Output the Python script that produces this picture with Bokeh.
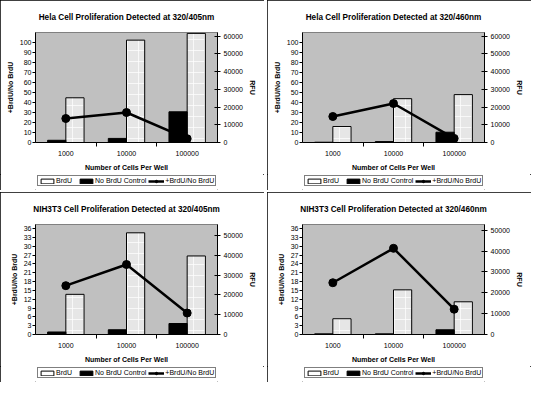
from bokeh.plotting import figure
from bokeh.models import (Range1d, LinearAxis, FixedTicker, Legend, LegendItem,
                          ColumnDataSource)
from bokeh.layouts import row, column
from bokeh.embed import file_html
from bokeh.resources import INLINE

# ---------------- data ----------------
categories = ["1000", "10000", "100000"]

titles = [
    "Hela Cell Proliferation Detected at 320/405nm",
    "Hela Cell Proliferation Detected at 320/460nm",
    "NIH3T3 Cell Proliferation Detected at 320/405nm",
    "NIH3T3 Cell Proliferation Detected at 320/460nm",
]

series_names = ["BrdU", "No BrdU Control", "+BrdU/No BrdU"]

# RFU (right axis)
brdu_hela_405 = [25200, 57700, 61500]
nobrdu_hela_405 = [1250, 2300, 17300]
ratio_hela_405 = [24, 30, 3.8]

brdu_hela_460 = [9000, 24700, 27000]
nobrdu_hela_460 = [150, 500, 5800]
ratio_hela_460 = [26, 39, 4.1]

brdu_nih_405 = [20300, 51400, 39700]
nobrdu_nih_405 = [1270, 2400, 5550]
ratio_nih_405 = [16.6, 23.8, 7.3]

brdu_nih_460 = [7540, 21400, 15670]
nobrdu_nih_460 = [300, 300, 2260]
ratio_nih_460 = [17.6, 29.3, 8.6]

left_ticks_hela = list(range(0, 101, 10))
left_ticks_nih = list(range(0, 37, 3))
right_ticks_hela = list(range(0, 60001, 10000))
right_ticks_nih = list(range(0, 50001, 10000))

FONT = "Liberation Sans"
BAR_FILL = "#e6e6e6"


def style_axis(ax, label):
    ax.major_label_text_font = FONT
    ax.major_label_text_font_size = "7px"
    ax.major_label_text_color = "black"
    ax.axis_label = label
    ax.axis_label_text_font = FONT
    ax.axis_label_text_font_size = "7px"
    ax.axis_label_text_font_style = "bold"
    ax.axis_label_text_color = "black"
    ax.axis_line_color = "black"
    ax.major_tick_line_color = "black"


def make_panel(title, brdu, nobrdu, ratio, left_max, left_ticks, right_max, right_ticks):
    n = len(categories)
    p = figure(width=264, height=174, output_backend="svg", toolbar_location=None,
               x_range=Range1d(0, n), y_range=Range1d(0, left_max),
               min_border_left=35, min_border_right=47, min_border_top=32,
               min_border_bottom=32, background_fill_color="#c0c0c0",
               border_fill_color="white", outline_line_color="#808080")
    p.extra_y_ranges = {"rfu": Range1d(0, right_max)}
    p.xgrid.visible = False
    p.ygrid.visible = False

    xc = [i + 0.5 for i in range(n)]
    src = ColumnDataSource(dict(x=xc, xb=[v + 0.15 for v in xc], xn=[v - 0.15 for v in xc],
                                brdu=brdu, nobrdu=nobrdu, ratio=ratio))
    p.vbar(x="xb", top="brdu", width=0.3, source=src, y_range_name="rfu",
           fill_color=BAR_FILL, line_color="black", line_width=1,
           hatch_pattern="+", hatch_color="white", hatch_scale=11, hatch_weight=1,
           hatch_alpha=0.7)
    p.vbar(x="xn", top="nobrdu", width=0.3, source=src, y_range_name="rfu",
           fill_color="black", line_color="black", line_width=1)
    p.line(x="x", y="ratio", source=src, line_color="black", line_width=2.5)
    p.scatter(x="x", y="ratio", source=src, size=8, marker="circle",
              fill_color="black", line_color="black")

    # x axis
    xa = p.below[0]
    style_axis(xa, "Number of Cells Per Well")
    xa.ticker = FixedTicker(ticks=xc, minor_ticks=list(range(1, n)))
    xa.major_label_overrides = {v: c for v, c in zip(xc, categories)}
    xa.major_tick_out = 0
    xa.major_tick_in = 0
    xa.minor_tick_out = 4
    xa.minor_tick_in = 0
    xa.minor_tick_line_color = "black"
    xa.major_label_standoff = 4
    xa.axis_label_standoff = 5

    # left axis
    ya = p.left[0]
    style_axis(ya, "+BrdU/No BrdU")
    ya.ticker = FixedTicker(ticks=left_ticks, minor_ticks=[])
    ya.major_tick_out = 3
    ya.major_tick_in = 0
    ya.minor_tick_out = 0
    ya.major_label_standoff = 1
    ya.axis_label_standoff = 3

    # right axis
    ra = LinearAxis(y_range_name="rfu", ticker=FixedTicker(ticks=right_ticks, minor_ticks=[]))
    style_axis(ra, "RFU")
    ra.major_tick_out = 3
    ra.major_tick_in = 3
    ra.minor_tick_out = 0
    ra.major_label_standoff = 3
    ra.axis_label_standoff = 3
    p.add_layout(ra, "right")

    # title
    p.title.text = title
    p.title.text_font = FONT
    p.title.text_font_size = "8.2px"
    p.title.text_font_style = "bold"
    p.title.text_color = "black"
    p.title.align = "center"
    p.title.offset = -6
    p.title.standoff = 21

    # legend strip below the chart (its swatch renderers are hidden);
    # its frame is aligned with the chart frame above it
    lf = figure(width=264, height=16, output_backend="svg", toolbar_location=None,
                x_range=Range1d(0, n), y_range=Range1d(0, 1), min_border=0,
                x_axis_location=None, y_axis_location=None,
                outline_line_color=None, background_fill_color="white",
                border_fill_color="white")
    lf.grid.visible = False
    g_b = lf.vbar(x="xb", top="brdu", width=0.3, source=src, fill_color="white",
                  line_color="black", line_width=1, visible=False)
    g_n = lf.vbar(x="xn", top="nobrdu", width=0.3, source=src, fill_color="black",
                  line_color="black", line_width=1, visible=False)
    g_l = lf.line(x="x", y="ratio", source=src, line_color="black", line_width=2.5,
                  visible=False)
    g_m = lf.scatter(x="x", y="ratio", source=src, size=6, marker="circle",
                     fill_color="black", line_color="black", visible=False)
    legend = Legend(items=[
        LegendItem(label=series_names[0], renderers=[g_b]),
        LegendItem(label=series_names[1], renderers=[g_n]),
        LegendItem(label=series_names[2], renderers=[g_l, g_m]),
    ], orientation="horizontal", location=(2, 4),
        glyph_width=16, glyph_height=6, label_height=7, label_standoff=1,
        label_text_font=FONT, label_text_font_size="7px", label_text_color="black",
        spacing=2, padding=1, margin=0, border_line_color="black",
        border_line_width=1, background_fill_color="white", background_fill_alpha=1,
        inactive_fill_alpha=0)
    lf.add_layout(legend)

    return column(p, lf, spacing=0,
                  styles={"outline": "1px solid black", "outline-offset": "-1px"})


c1 = make_panel(titles[0], brdu_hela_405, nobrdu_hela_405, ratio_hela_405,
                110, left_ticks_hela, 62000, right_ticks_hela)
c2 = make_panel(titles[1], brdu_hela_460, nobrdu_hela_460, ratio_hela_460,
                110, left_ticks_hela, 62000, right_ticks_hela)
c3 = make_panel(titles[2], brdu_nih_405, nobrdu_nih_405, ratio_nih_405,
                37.4, left_ticks_nih, 55600, right_ticks_nih)
c4 = make_panel(titles[3], brdu_nih_460, nobrdu_nih_460, ratio_nih_460,
                37.4, left_ticks_nih, 52700, right_ticks_nih)

layout = column(row(c1, c2, spacing=3), row(c3, c4, spacing=3), spacing=2)

with open("out.html", "w") as f:
    f.write(file_html(layout, INLINE))
